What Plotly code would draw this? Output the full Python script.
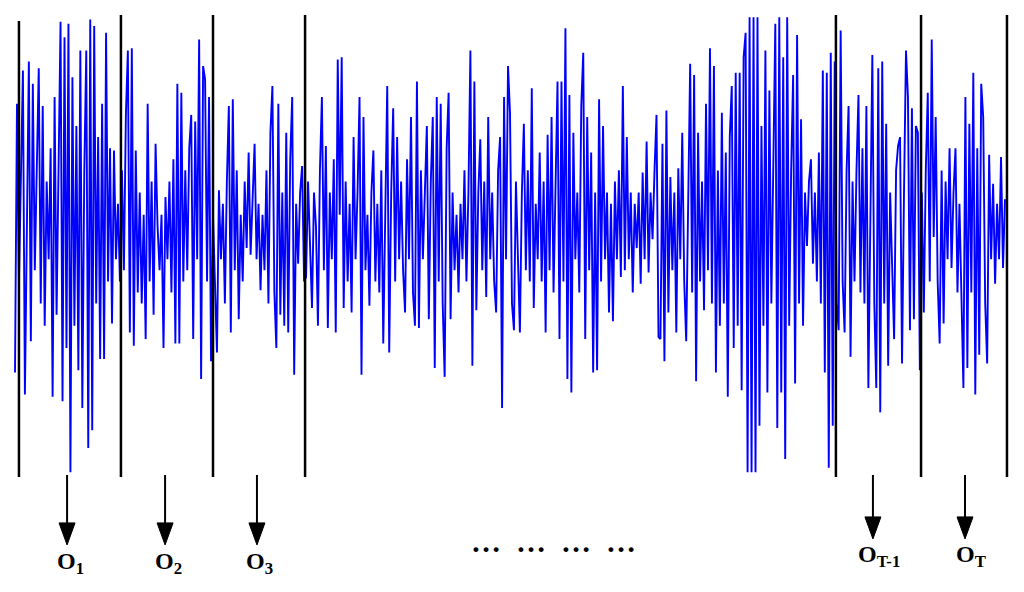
import plotly.graph_objects as go

# ---- signal samples, one list per observation frame (amplitude units) ----
frame_1 = [-61, 60, -20, 30, 75, -71, 20, 79, -47, 69, -15, 35, 76, -30, 59, -40, 25, -10, 40, -72,
           63, -35, 30, 97, -74, 90, -50, 96, -106, 72, -40, 50, -60, 84, -77, 30, 84, -95, 98, -87,
           95, -30, 45, -55, 60, -55, 92, -20, 40, -39, 39, -10, 15]
frame_2 = [-20, 30, -15, 55, 84, -43, 85, -49, 39, -25, 20, -30, 10, -46, 60, -20, 25, -35, 42, 5,
           -15, 10, -50, 18, -10, 25, -25, 35, -48, 69, -48, 65, -20, 30, -15, 40, 55, -46, 52, -10,
           89, -64, 77, 71, -20, 63, -56, 10]
frame_3 = [-20, -52, 21, -10, 15, -30, 25, 59, -43, 62, -15, 30, -37, 10, -20, 25, -5, 38, -8, 20,
           42, -10, 15, -24, 10, -15, 30, -30, 47, 68, -25, -50, 60, -35, 20, -40, 47, -43, 35, 63,
           -62, 15, -12, 20, 32, -20]
frames_mid = [-18, 25, -10, -32, 20, 5, -40, 30, 63, -15, 41, -41, 20, -10, 35, -43, 80, 10, 81, -32,
              25, -20, 15, -34, 45, -10, 20, 63, -62, 54, -15, 10, -31, 20, 39, -20, 15, -25, 30, -48,
              10, 68, -52, 20, 58, -20, 45, -10, 25, -15, -34, 35, -10, 54, -25, -40, 70, -41, 30, -10,
              20, 50, -37, 25, 54, -59, 63, -20, 60, -30, -63, 40, 65, -37, 20, -15, 10, -25, 15, -10,
              30, -20, 20, 84, -58, 70, -33, 20, 44, -15, 25, -27, 54, -10, 20, -20, -34, 30, 45, -77,
              63, -10, 77, 56, -30, -42, 25, -10, -43, 20, 51, -15, 30, -20, 67, -32, 15, -10, 38, -20,
              25, -43, 46, -15, 54, -25, 30, 70, -46, 70, -20, 94, -64, 64, -70, 47, -10, 20, -25, 59,
              83, -46, 54, -15, 38, -61, 20, -60, 62, -20, 50, -10, 20, -34, 15, -38, 25, -10, 30, -18,
              68, -15, 45, -10, 20, -25, 15, -5, 20, -21, 29, -10, 43, -16, 20, -1, 30, 55, -45, -46,
              42, -56, 57, -34, 27, -15, 20, -43, 31, -10, 47, -20, -47, 30, 78, -25, 73, -65, 47, -20,
              25, -33, 60, -15, 85, -30, 77, -61, 30, -40, 56, -30, 38, -72, 45, 68, -50, 74, -40, 74,
              -69, 81, 92, -106, 99, -106, 99, -106, 99, -85, 50, -40, 84, -70, 66, -30, 40, 96, -86, 99,
              -70, 81, -100, 99, -40, 30, 73, -66, 91, -30, 53, -40, 20, -4, 25, 35, -12, 20, -20, 38,
              -30, 75, -61, 74, -104, 83, -85, 79]
frame_T1 = [-30, -42, 93, -20, -43, 30, 59, -54, 25, -20, 30, 64, -25, 40, -30, 59, -68, 20, 82, -30,
            -68, 76, -79, 79, -30, 51, -58, 20, -15, -46, 30, 41, 45, -57, 20, 84, 63, -42, 58, -37,
            50, 47, -60]
frame_T = [20, -34, 30, 65, -20, 89, 0, 54, -20, -48, 30, -39, 25, -10, 40, -14, 20, 40, -25, 15,
           -30, -68, 63, -59, 51, -25, 74, -71, 40, -53, 69, 54, -30, -57, 37, -10, 24, -21, 15, -10,
           36, -14, 17]

signal = frame_1 + frame_2 + frame_3 + frames_mid + frame_T1 + frame_T
sample_index = list(range(len(signal)))

# frame boundaries (sample index) and observation labels
boundaries = [2, 53.5, 100, 146.5, 414.6, 457.6, 501]
obs_positions = [26.3, 75.8, 122.2, 433.3, 479.8]
obs_labels = ["O<sub>1</sub>", "O<sub>2</sub>", "O<sub>3</sub>", "O<sub>T-1</sub>", "O<sub>T</sub>"]
NB = "\u00a0"
ellipsis_text = ("\u2026" + NB * 2) * 3 + "\u2026"
ellipsis_position = 272

fig = go.Figure()
fig.add_trace(go.Scatter(x=sample_index, y=signal, mode="lines",
                         line=dict(color="#0000ff", width=1.9), hoverinfo="skip",
                         showlegend=False))

shapes = []
for k, b in enumerate(boundaries):
    top = 97.3 if k == 0 else 100
    shapes.append(dict(type="line", xref="x", yref="y", x0=b, x1=b, y0=top, y1=-108.1,
                       line=dict(color="black", width=2.5)))

annotations = []
for k, (p, lab) in enumerate(zip(obs_positions, obs_labels)):
    late = k >= 3
    tip = -136.0 if late else -138.7
    head = 22
    shapes.append(dict(type="line", xref="x", yref="y", x0=p, x1=p, y0=-107.2, y1=tip + 5,
                       line=dict(color="black", width=2)))
    shapes.append(dict(type="path", xref="x", yref="y", xsizemode="pixel", ysizemode="pixel",
                       xanchor=p, yanchor=tip,
                       path=f"M0,0 L-8,{head} L8,{head} Z",
                       fillcolor="black", line=dict(color="black", width=1)))
    annotations.append(dict(x=p, y=(-147.0 if not late else -143.5), xref="x", yref="y",
                            text=f"<b>{lab}</b>", showarrow=False,
                            xanchor="center", yanchor="middle",
                            xshift=(3 if not late else 6),
                            font=dict(family="Liberation Serif, Times New Roman, serif",
                                      size=24, color="black")))

annotations.append(dict(x=ellipsis_position, y=-137.0, xref="x", yref="y",
                        text=f"<b>{ellipsis_text}</b>", showarrow=False,
                        xanchor="center", yanchor="middle",
                        font=dict(family="Liberation Serif, Times New Roman, serif",
                                  size=30, color="black")))

# page body has an 8px margin: figure is 1008x576, placed at (8, 8)
fig.update_layout(
    width=1008, height=576, autosize=False,
    margin=dict(l=0, r=0, t=0, b=0),
    paper_bgcolor="white", plot_bgcolor="white",
    shapes=shapes, annotations=annotations,
    xaxis=dict(range=[-3.535, 505.56], visible=False, fixedrange=True),
    yaxis=dict(range=[-156.31, 103.15], visible=False, fixedrange=True),
)

fig.write_html("out.html")
